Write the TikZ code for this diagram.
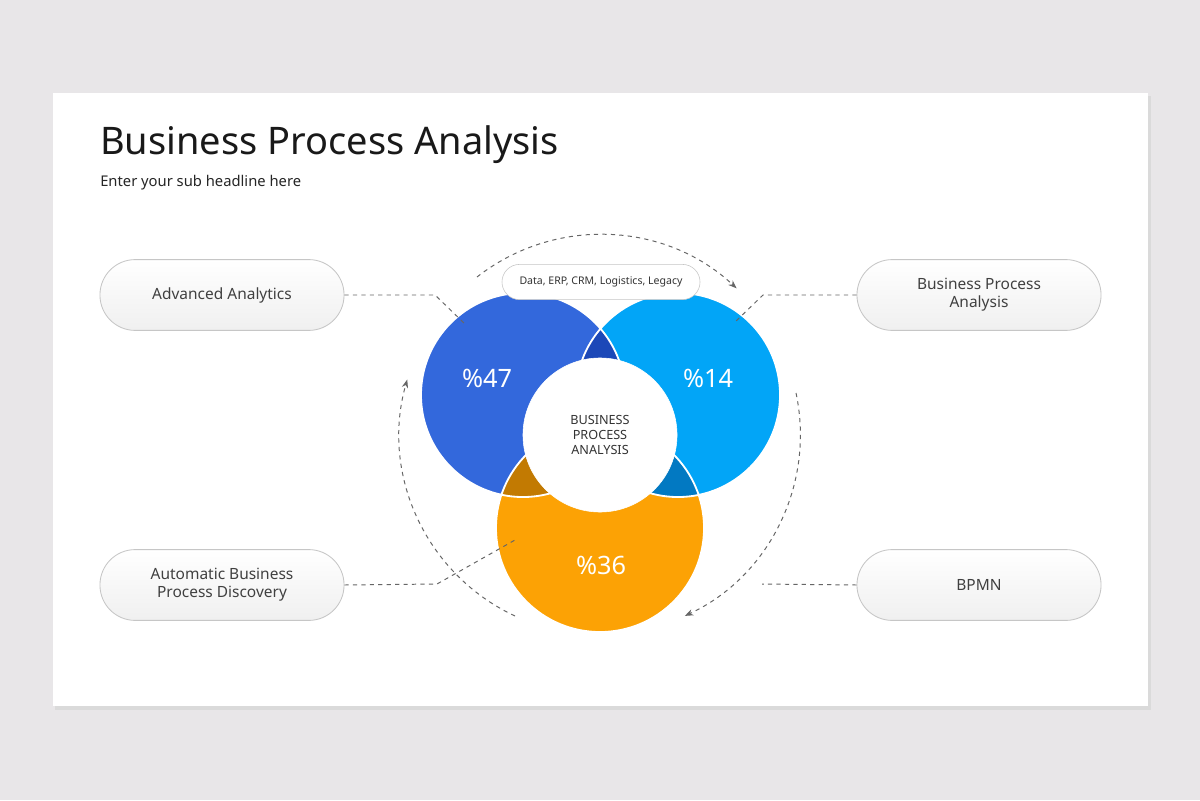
\documentclass[tikz,border=0pt]{standalone}
\usepackage{fontspec}
\setmainfont{Noto Sans}
\usetikzlibrary{arrows.meta}
\definecolor{bgray}{HTML}{E8E6E8}
\definecolor{cblue}{HTML}{3368DC}
\definecolor{clight}{HTML}{02A5F7}
\definecolor{corange}{HTML}{FCA205}
\definecolor{cdblue}{HTML}{1C48B8}
\definecolor{cdorange}{HTML}{C27A02}
\definecolor{cteal}{HTML}{0279C2}
\tikzset{
  pill/.style={draw=gray!45, line width=0.6pt, rounded corners=0.88cm, minimum width=6.1cm,
    minimum height=1.77cm, top color=white, bottom color=gray!12, align=center,
    font=\fontsize{11}{13}\selectfont, text=black!75},
  link/.style={gray!80!black, dashed, line width=0.7pt},
  loop/.style={gray!80!black, dashed, line width=0.7pt, -{Stealth[length=6pt]}},
  pct/.style={text=white, font=\fontsize{18}{20}\selectfont}
}
\begin{document}
\begin{tikzpicture}[x=0.025cm, y=-0.025cm]
  \useasboundingbox (0,0) rectangle (1200,800);
  \fill[bgray] (0,0) rectangle (1200,800);
  \fill[gray!35, opacity=0.6] (55,96) rectangle (1151,710);
  \fill[white] (53,93) rectangle (1148,706);
  % title
  \node[anchor=base west, inner sep=0, font=\fontsize{27}{30}\selectfont, text=black!90] (title) at (100,155) {Business Process Analysis};
  \node[anchor=base west, inner sep=0, font=\fontsize{10.5}{12}\selectfont, text=black!85] (sub) at (100,187) {Enter your sub headline here};
  % circles
  \coordinate (cb) at (523,395);
  \coordinate (cl) at (678,395);
  \coordinate (co) at (600,528);
  \fill[cblue] (cb) circle[radius=2.55cm];
  \fill[clight] (cl) circle[radius=2.55cm];
  \fill[corange] (co) circle[radius=2.6cm];
  \begin{scope}
    \clip (cb) circle[radius=2.55cm];
    \fill[cdblue] (cl) circle[radius=2.55cm];
    \fill[cdorange] (co) circle[radius=2.6cm];
  \end{scope}
  \begin{scope}
    \clip (cl) circle[radius=2.55cm];
    \fill[cteal] (co) circle[radius=2.6cm];
  \end{scope}
  \draw[white, line width=1.3pt] (cb) circle[radius=2.55cm] (cl) circle[radius=2.55cm] (co) circle[radius=2.6cm];
  \node[circle, fill=white, draw=white, minimum size=3.85cm, align=center,
    font=\bfseries\fontsize{9}{11}\selectfont, text=black!80] (core) at (600,435) {BUSINESS\\PROCESS\\ANALYSIS};
  \node[pct] (p47) at (487,378) {\%47};
  \node[pct] (p14) at (708,378) {\%14};
  \node[pct] (p36) at (601,565) {\%36};
  % top label
  \node[draw=gray!45, fill=white, rounded corners=0.44cm, minimum width=4.95cm, minimum height=0.88cm,
    font=\fontsize{7.5}{9}\selectfont, text=black!80] (data) at (601,282) {Data, ERP, CRM, Logistics, Legacy};
  % pills
  \node[pill] (adv) at (222,295) {Advanced Analytics};
  \node[pill] (bpa) at (979,295) {Business Process\\Analysis};
  \node[pill] (abp) at (222,585) {Automatic Business\\Process Discovery};
  \node[pill] (bpmn) at (979,585) {BPMN};
  % links
  \coordinate (a1) at (435,295); \coordinate (a2) at (466,325);
  \coordinate (b1) at (763,295); \coordinate (b2) at (735,322);
  \coordinate (c1) at (437,584); \coordinate (c2) at (515,540);
  \coordinate (d1) at (762,584);
  \draw[link] (adv.east) -- (a1) -- (a2);
  \draw[link] (bpa.west) -- (b1) -- (b2);
  \draw[link] (abp.east) -- (c1) -- (c2);
  \draw[link] (bpmn.west) -- (d1);
  % loop arrows
  \draw[loop] (477,277) arc[start angle=128, end angle=47, radius=5cm];
  \draw[loop] (515,616) arc[start angle=245, end angle=164, radius=5cm];
  \draw[loop] (796,393) arc[start angle=12, end angle=-65, radius=5cm];
\end{tikzpicture}
\end{document}
